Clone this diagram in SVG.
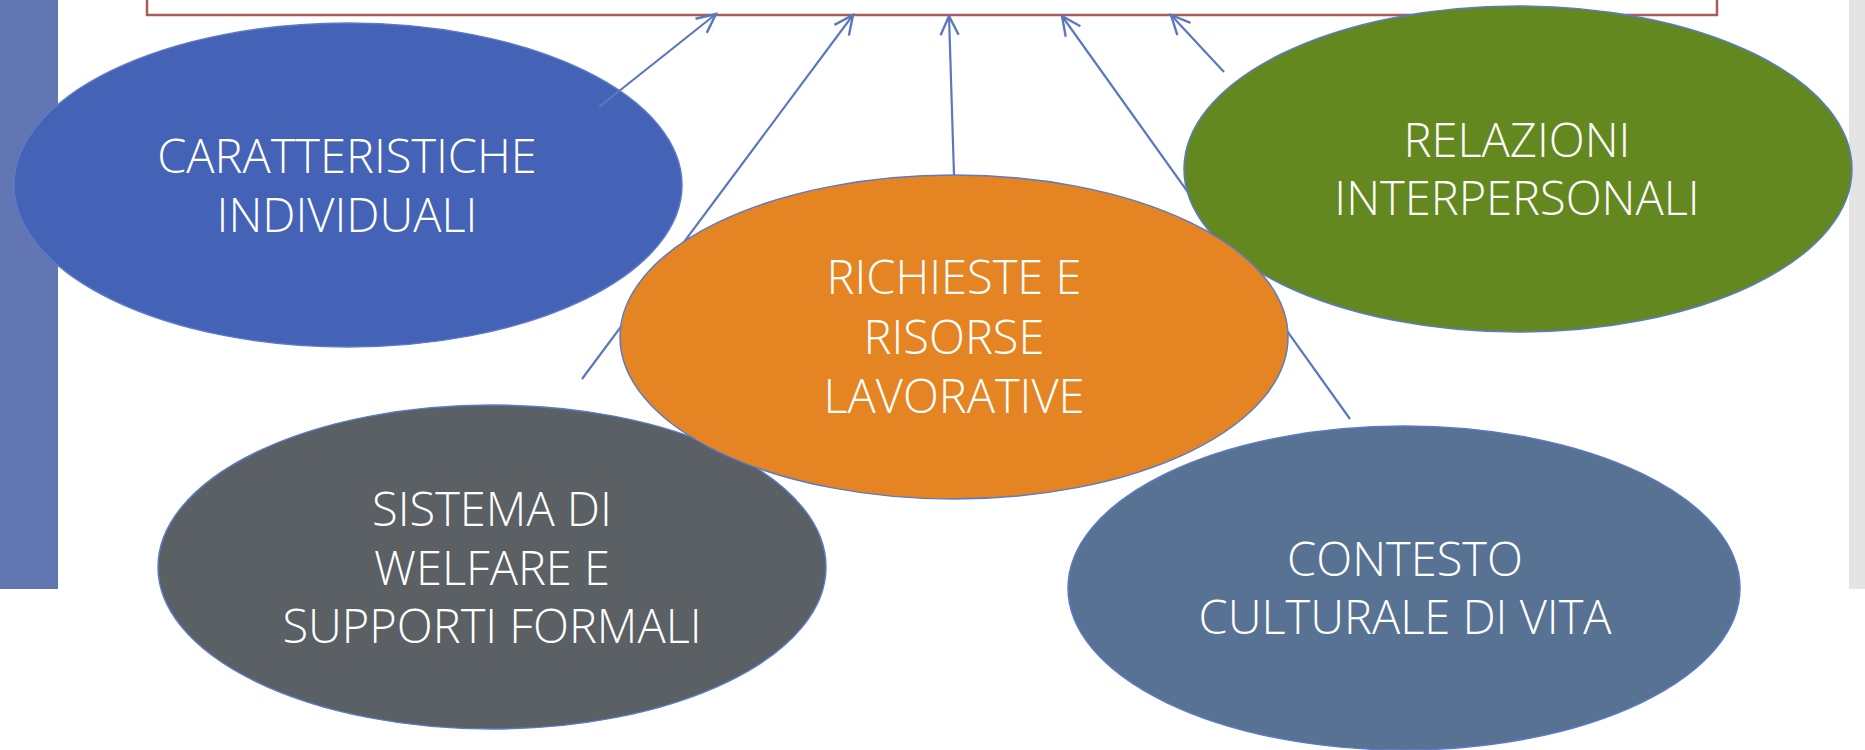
<svg xmlns="http://www.w3.org/2000/svg" width="1865" height="750" viewBox="0 0 1865 750">
<defs>
<style>
.node ellipse{stroke:#5B7BC7;stroke-width:1.5}
.lbl{font-family:"Open Sans","Liberation Sans",sans-serif;font-weight:300;font-size:47px;fill:#FFFFFF;text-anchor:middle}
.conn line{stroke:#5B78BE;stroke-width:2.2;fill:none}
</style>
<marker id="arr" markerUnits="userSpaceOnUse" markerWidth="40" markerHeight="40" refX="0" refY="0" orient="auto" overflow="visible">
<path d="M-19,-9 L0,0 L-19,9" fill="none" stroke="#5B78BE" stroke-width="2.4" stroke-linejoin="miter"/>
</marker>
</defs>
<rect x="0" y="0" width="1865" height="750" fill="#FFFFFF"/>
<rect id="leftbar" x="0" y="0" width="58" height="589" fill="#6176B3"/>
<rect id="rightbar" x="1849" y="0" width="16" height="589" fill="#E4E4E4"/>
<rect id="target" x="147" y="-20" width="1570" height="35" fill="#FFFFFF" stroke="#A95B5B" stroke-width="2.5"/>

<g id="n-caratteristiche" class="node">
<ellipse cx="348" cy="185" rx="334" ry="162" fill="#4462B6"/>
<text class="lbl" x="347" y="173">CARATTERISTICHE</text>
<text class="lbl" x="347" y="232">INDIVIDUALI</text>
</g>

<g id="connectors" class="conn">
<line x1="599" y1="107" x2="716" y2="14" marker-end="url(#arr)"/>
<line x1="582" y1="379" x2="853" y2="15" marker-end="url(#arr)"/>
<line x1="954" y1="175" x2="949" y2="16" marker-end="url(#arr)"/>
<line x1="1350" y1="419" x2="1062" y2="16" marker-end="url(#arr)"/>
<line x1="1224" y1="72" x2="1171" y2="15" marker-end="url(#arr)"/>
</g>

<g id="n-relazioni" class="node">
<ellipse cx="1518" cy="169" rx="334" ry="163" fill="#648820"/>
<text class="lbl" x="1517" y="157">RELAZIONI</text>
<text class="lbl" x="1517" y="215">INTERPERSONALI</text>
</g>

<g id="n-sistema" class="node">
<ellipse cx="492" cy="567" rx="334" ry="162" fill="#5A6064"/>
<text class="lbl" x="492" y="526">SISTEMA DI</text>
<text class="lbl" x="492" y="585">WELFARE E</text>
<text class="lbl" x="492" y="643">SUPPORTI FORMALI</text>
</g>

<g id="n-contesto" class="node">
<ellipse cx="1404" cy="588" rx="336" ry="162" fill="#587293"/>
<text class="lbl" x="1405" y="576">CONTESTO</text>
<text class="lbl" x="1405" y="634">CULTURALE DI VITA</text>
</g>

<g id="n-richieste" class="node">
<ellipse cx="954" cy="337" rx="334" ry="162" fill="#E58422"/>
<text class="lbl" x="954" y="294">RICHIESTE E</text>
<text class="lbl" x="954" y="354">RISORSE</text>
<text class="lbl" x="954" y="413">LAVORATIVE</text>
</g>
</svg>
